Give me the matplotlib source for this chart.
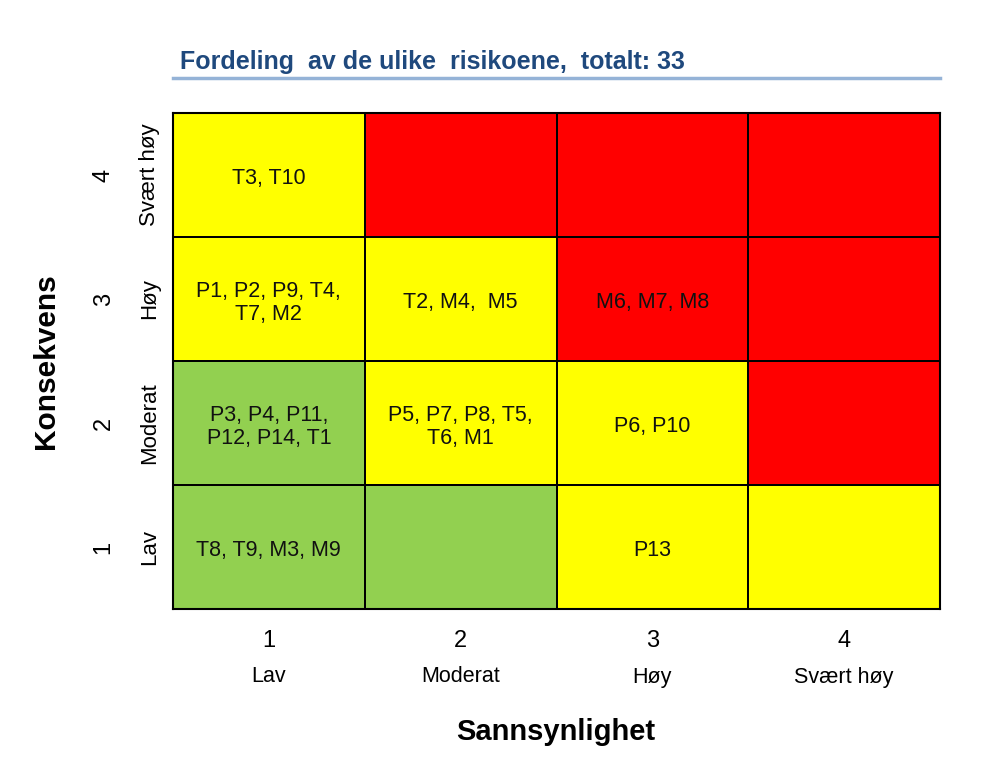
import numpy as np
import matplotlib.pyplot as plt
from matplotlib.colors import ListedColormap
import matplotlib.transforms as mtransforms

plt.rcParams['font.family'] = ['Liberation Sans', 'DejaVu Sans']

prob_ticks = [1, 2, 3, 4]
prob_names = ['Lav', 'Moderat', 'Høy', 'Svært høy']
cons_ticks = [1, 2, 3, 4]
cons_names = ['Lav', 'Moderat', 'Høy', 'Svært høy']

# risk level per cell, rows = konsekvens 1..4, cols = sannsynlighet 1..4 (0 green, 1 yellow, 2 red)
risk_level = [
    [0, 0, 1, 1],
    [0, 1, 1, 2],
    [1, 1, 2, 2],
    [1, 2, 2, 2],
]
cell_labels = [
    ['T8, T9, M3, M9', '', 'P13', ''],
    ['P3, P4, P11,\nP12, P14, T1', 'P5, P7, P8, T5,\nT6, M1', 'P6, P10', ''],
    ['P1, P2, P9, T4,\nT7, M2', 'T2, M4,  M5', 'M6, M7, M8', ''],
    ['T3, T10', '', '', ''],
]
total = 33

fig = plt.figure(figsize=(9.82, 7.66), dpi=100)
ax = fig.add_axes([173/982, 1-609/766, (940-173)/982, (609-113)/766])

cmap = ListedColormap(['#92D050', '#FFFF00', '#FF0000'])
xe = np.arange(0.5, 5.0, 1.0)
ye = np.arange(0.5, 5.0, 1.0)
ax.pcolormesh(xe, ye, np.array(risk_level), cmap=cmap, vmin=-0.5, vmax=2.5,
              edgecolors='black', linewidth=1.2)

for i, row in enumerate(cell_labels):
    for j, txt in enumerate(row):
        if txt:
            ax.text(prob_ticks[j], cons_ticks[i] - 0.03, txt, ha='center', va='center',
                    fontsize=15.5, linespacing=1.15, color='#111111')

ax.set_xlim(0.5, 4.5)
ax.set_ylim(0.5, 4.5)
for s in ax.spines.values():
    s.set_linewidth(1.5)

ax.set_xticks(prob_ticks)
ax.set_xticklabels([str(t) for t in prob_ticks], fontsize=17)
ax.set_yticks(cons_ticks)
ax.set_yticklabels([str(t) for t in cons_ticks], fontsize=17, rotation=90, va='center')
ax.tick_params(axis='x', length=0, pad=15)
ax.tick_params(axis='y', length=0, pad=42)

tx = mtransforms.blended_transform_factory(ax.transData, fig.transFigure)
for p, name in zip(prob_ticks, prob_names):
    ax.text(p, 1-677/766, name, transform=tx, ha='center', va='center', fontsize=15.5)
ty = mtransforms.blended_transform_factory(fig.transFigure, ax.transData)
for c, name in zip(cons_ticks, cons_names):
    ax.text(150/982, c, name, transform=ty, ha='center', va='center', fontsize=16, rotation=90)

fig.text(556/982, 1-732/766, 'Sannsynlighet', ha='center', va='center', fontsize=21, fontweight='bold')
fig.text(46/982, 1-361/766, 'Konsekvens', ha='center', va='center', fontsize=21.5,
         fontweight='bold', rotation=90)

fig.text(180/982, 1-62/766, f'Fordeling  av de ulike  risikoene,  totalt: {total}',
         ha='left', va='center', fontsize=18, fontweight='bold', color='#1F497D')
fig.add_artist(plt.Line2D([173/982, 940/982], [1-78/766, 1-78/766], color='#95B3D7', linewidth=2.5))

fig.savefig('out.png', dpi=100)
